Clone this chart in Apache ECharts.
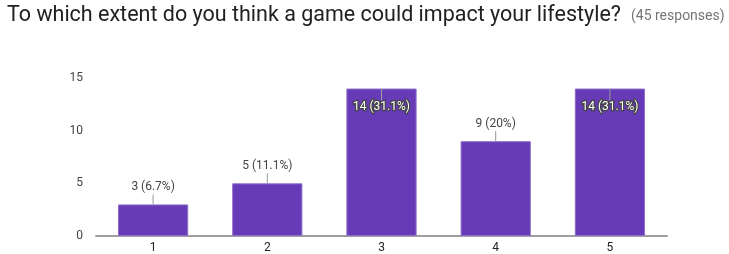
<!DOCTYPE html>
<html>
<head>
<meta charset="utf-8">
<script src="https://cdn.jsdelivr.net/npm/echarts@6/dist/echarts.min.js"></script>
<style>
  html, body { margin: 0; padding: 0; background: #fff; }
  #chart { width: 729px; height: 254px; }
</style>
</head>
<body>
<div id="chart"></div>
<script>
// answers on the 1-5 scale
var categories = ['1', '2', '3', '4', '5'];
var counts = [3, 5, 14, 9, 14];
var percents = ['6.7%', '11.1%', '31.1%', '20%', '31.1%'];
// bars whose label does not fit above and is drawn inside
var insideLabel = [false, false, true, false, true];
var yTicks = [0, 5, 10, 15];

var barData = counts.map(function (v, i) {
    var item = { value: v };
    if (insideLabel[i]) {
        item.label = {
            position: 'insideTop',
            distance: 12,
            color: '#ffffff',
            textBorderColor: '#444',
            textBorderWidth: 2.5
        };
    }
    return item;
});

var option = {
    animation: false,
    title: {
        left: 2,
        top: 0,
        text: '{a|To which extent do you think a game could impact your lifestyle?}  {b|(45 responses)}',
        textStyle: {
            rich: {
                a: { fontFamily: 'Roboto', fontSize: 21.5, color: '#212121', fontWeight: 'normal' },
                b: { fontFamily: 'Roboto', fontSize: 14, color: '#757575', fontWeight: 'normal' }
            }
        }
    },
    grid: {
        left: 96,
        right: 62,
        top: 78,
        bottom: 18
    },
    xAxis: {
        type: 'category',
        data: categories,
        axisLine: { lineStyle: { color: '#9e9e9e', width: 2 } },
        axisTick: { show: false },
        axisLabel: { color: '#222', fontFamily: 'Roboto', fontSize: 12, margin: 6 }
    },
    yAxis: {
        type: 'value',
        min: yTicks[0],
        max: yTicks[yTicks.length - 1],
        interval: 5,
        splitLine: { show: false },
        axisLine: { show: false },
        axisTick: { show: false },
        axisLabel: { color: '#444', fontFamily: 'Roboto', fontSize: 12, margin: 13 }
    },
    series: [{
        type: 'bar',
        data: barData,
        barWidth: '61.5%',
        itemStyle: { color: '#673ab7', borderColor: '#8f70c9', borderWidth: 1 },
        label: {
            show: true,
            position: 'top',
            distance: 11,
            fontFamily: 'Roboto',
            fontSize: 12,
            color: '#444',
            formatter: function (p) {
                return p.value + ' (' + percents[p.dataIndex] + ')';
            }
        }
    }, {
        // small leader lines between bar tops and labels
        type: 'custom',
        data: counts.map(function (v, i) { return [i, v]; }),
        encode: { x: 0, y: 1 },
        z: 5,
        silent: true,
        renderItem: function (params, api) {
            var i = params.dataIndex;
            var pt = api.coord([api.value(0), api.value(1)]);
            var y2 = insideLabel[i] ? pt[1] + 12 : pt[1] - 10;
            return {
                type: 'line',
                shape: { x1: pt[0], y1: pt[1], x2: pt[0], y2: y2 },
                style: { stroke: '#999', lineWidth: 1 }
            };
        }
    }]
};

var myChart = echarts.init(document.getElementById('chart'));
myChart.setOption(option);
</script>
</body>
</html>
